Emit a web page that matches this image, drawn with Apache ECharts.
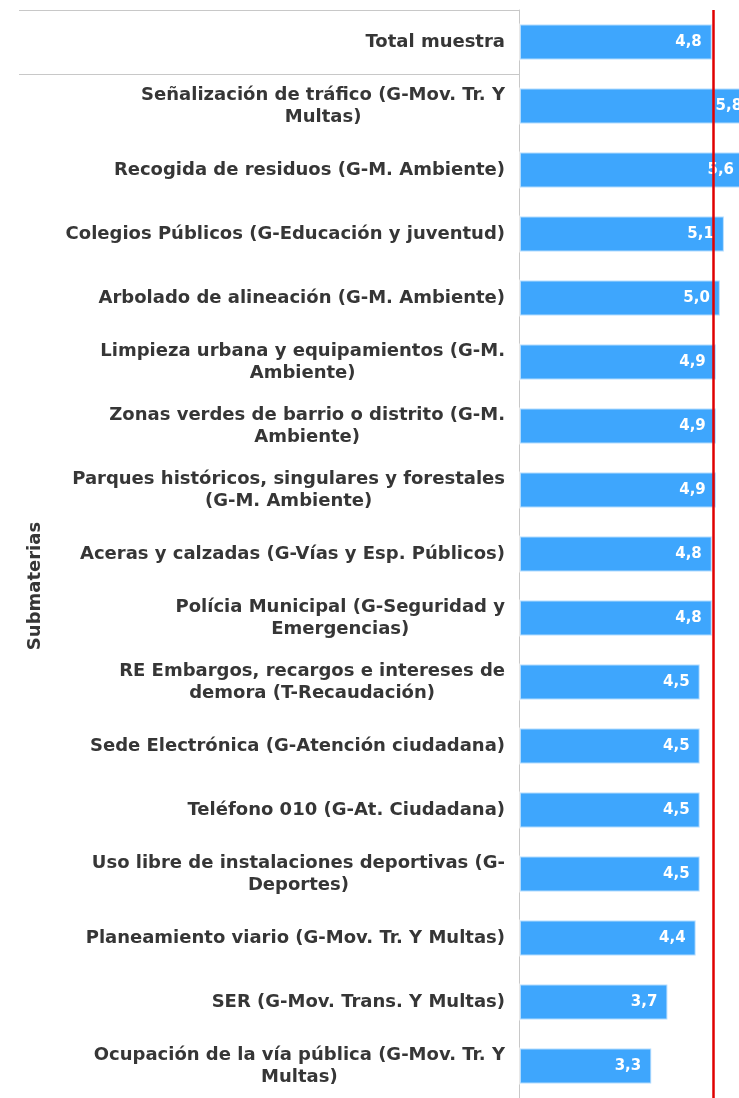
<!DOCTYPE html>
<html>
<head>
<meta charset="utf-8">
<title>Submaterias</title>
<script src="https://cdn.jsdelivr.net/npm/echarts@6/dist/echarts.min.js"></script>
<style>
  html, body { margin: 0; padding: 0; background: #ffffff; }
  #chart { width: 739px; height: 1098px; }
</style>
</head>
<body>
<div id="chart"></div>
<script>
// Categories, top to bottom (first entry is the overall sample)
const categories = [
  'Total muestra',
  'Señalización de tráfico (G-Mov. Tr. Y\nMultas)',
  'Recogida de residuos (G-M. Ambiente)',
  'Colegios Públicos (G-Educación y juventud)',
  'Arbolado de alineación (G-M. Ambiente)',
  'Limpieza urbana y equipamientos (G-M.\nAmbiente)',
  'Zonas verdes de barrio o distrito (G-M.\nAmbiente)',
  'Parques históricos, singulares y forestales\n(G-M. Ambiente)',
  'Aceras y calzadas (G-Vías y Esp. Públicos)',
  'Polícia Municipal (G-Seguridad y\nEmergencias)',
  'RE Embargos, recargos e intereses de\ndemora (T-Recaudación)',
  'Sede Electrónica (G-Atención ciudadana)',
  'Teléfono 010 (G-At. Ciudadana)',
  'Uso libre de instalaciones deportivas (G-\nDeportes)',
  'Planeamiento viario (G-Mov. Tr. Y Multas)',
  'SER (G-Mov. Trans. Y Multas)',
  'Ocupación de la vía pública (G-Mov. Tr. Y\nMultas)'
];

// Mean score per category
const scores = [4.8, 5.8, 5.6, 5.1, 5.0, 4.9, 4.9, 4.9, 4.8, 4.8, 4.5, 4.5, 4.5, 4.5, 4.4, 3.7, 3.3];

// Reference line: overall sample mean
const referenceValue = 4.8;

// Group label for the detailed rows
const groupLabel = 'Submaterias';

const FONT = 'DejaVu Sans';
const TEXT_COLOR = '#363636';
const FRAME_COLOR = '#c8c8c8';
const LABEL_SIZE = 18;

const chart = echarts.init(document.getElementById('chart'), null, { renderer: 'canvas' });

const option = {
  animation: false,
  backgroundColor: '#ffffff',
  grid: { left: 519, top: 10, right: 0, bottom: 0 },
  xAxis: {
    type: 'value',
    min: 0,
    // the visible window ends before the longest bars, which run off the page edge
    max: 5.45,
    show: false
  },
  yAxis: {
    type: 'category',
    inverse: true,
    data: categories,
    axisLine: { show: true, lineStyle: { color: FRAME_COLOR, width: 1 } },
    axisTick: { show: false },
    splitLine: { show: false },
    axisLabel: {
      margin: 14,
      align: 'right',
      fontFamily: FONT,
      fontWeight: 'bold',
      fontSize: LABEL_SIZE,
      color: TEXT_COLOR,
      lineHeight: 22,
      formatter: function (value) {
        return value.split('\n').map(function (l) { return '{c|' + l + '}'; }).join('\n');
      },
      rich: {
        c: {
          align: 'center',
          fontFamily: FONT,
          fontWeight: 'bold',
          fontSize: LABEL_SIZE,
          color: TEXT_COLOR,
          lineHeight: 22
        }
      }
    }
  },
  series: [
    {
      // carries the reference line, drawn underneath the bars
      type: 'line',
      data: [],
      z: 1,
      silent: true,
      markLine: {
        silent: true,
        symbol: ['none', 'none'],
        label: { show: false },
        lineStyle: { color: '#e00000', width: 2.5, type: 'solid' },
        data: [{ xAxis: referenceValue }]
      }
    },
    {
      type: 'bar',
      data: scores,
      z: 3,
      clip: false,
      barWidth: 37,
      itemStyle: {
        color: '#3ea6fd',
        borderColor: 'rgba(255,255,255,0.6)',
        borderWidth: 2
      },
      label: {
        show: true,
        position: 'insideRight',
        distance: 11,
        color: '#ffffff',
        fontFamily: FONT,
        fontWeight: 'bold',
        fontSize: 15,
        formatter: function (p) { return p.value.toFixed(1).replace('.', ','); }
      }
    }
  ]
};

chart.setOption(option);

// Frame around the first row and the rotated group label, placed from the axis scale
function drawFrame() {
  const yFirst = chart.convertToPixel({ yAxisIndex: 0 }, categories[0]);
  const ySecond = chart.convertToPixel({ yAxisIndex: 0 }, categories[1]);
  const yLast = chart.convertToPixel({ yAxisIndex: 0 }, categories[categories.length - 1]);
  const band = ySecond - yFirst;
  const axisX = chart.convertToPixel({ xAxisIndex: 0 }, 0);
  const frameLeft = 19;
  const topEdge = yFirst - band / 2;
  const sepY = yFirst + band / 2;
  const groupCenter = (ySecond + yLast) / 2;

  chart.setOption({
    graphic: [
      {
        type: 'line',
        shape: { x1: frameLeft, y1: topEdge + 0.5, x2: axisX, y2: topEdge + 0.5 },
        style: { stroke: FRAME_COLOR, lineWidth: 1 },
        silent: true
      },
      {
        type: 'line',
        shape: { x1: frameLeft, y1: sepY + 0.5, x2: axisX, y2: sepY + 0.5 },
        style: { stroke: FRAME_COLOR, lineWidth: 1 },
        silent: true
      },
      {
        type: 'text',
        x: 35,
        y: groupCenter,
        rotation: Math.PI / 2,
        style: {
          text: groupLabel,
          fill: TEXT_COLOR,
          font: 'bold ' + LABEL_SIZE + 'px "' + FONT + '"',
          align: 'center',
          verticalAlign: 'middle'
        },
        silent: true
      }
    ]
  });
}
drawFrame();
</script>
</body>
</html>
